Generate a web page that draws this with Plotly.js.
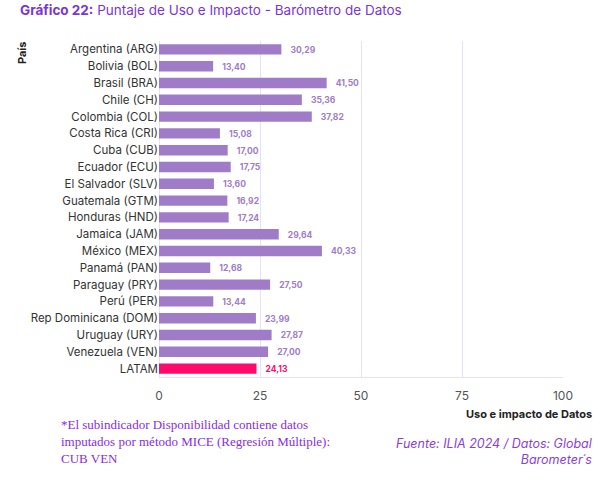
<!DOCTYPE html>
<html>
<head>
<meta charset="utf-8">
<script src="https://cdn.plot.ly/plotly-3.0.1.min.js"></script>
<style>
  body { margin: 0; background: #fff; }
  #chart { width: 600px; height: 479px; }
</style>
</head>
<body>
<div id="chart"></div>
<script>
"use strict";

// countries, top to bottom as in the figure
const countries = [
    "Argentina (ARG)", "Bolivia (BOL)", "Brasil (BRA)", "Chile (CH)", "Colombia (COL)",
    "Costa Rica (CRI)", "Cuba (CUB)", "Ecuador (ECU)", "El Salvador (SLV)", "Guatemala (GTM)",
    "Honduras (HND)", "Jamaica (JAM)", "México (MEX)", "Panamá (PAN)", "Paraguay (PRY)",
    "Perú (PER)", "Rep Dominicana (DOM)", "Uruguay (URY)", "Venezuela (VEN)", "LATAM"
];
const scores = [
    30.29, 13.40, 41.50, 35.36, 37.82,
    15.08, 17.00, 17.75, 13.60, 16.92,
    17.24, 29.64, 40.33, 12.68, 27.50,
    13.44, 23.99, 27.87, 27.00, 24.13
];
const xTicks = [0, 25, 50, 75, 100];

const purple = "#a07cc8";
const pink = "#ff0a6c";

let barColors = countries.map(function (c) { return c === "LATAM" ? pink : purple; });
// pad the value labels a bit away from the bar ends, like the original
let labels = scores.map(function (v) { return "\u00a0\u00a0\u00a0" + v.toFixed(2).replace(".", ","); });

let barTrace = {
    type: "bar",
    orientation: "h",
    y: countries,
    x: scores,
    marker: { color: barColors },
    text: labels,
    textposition: "outside",
    textfont: { family: "Inter, sans-serif", size: 9, color: barColors, weight: 700 },
    cliponaxis: false,
    hoverinfo: "none",
    width: 0.62
};

let layout = {
    width: 600,
    height: 479,
    margin: { l: 159, r: 37, t: 41, b: 102 },
    paper_bgcolor: "#fff",
    plot_bgcolor: "#fff",
    showlegend: false,
    font: { family: "Inter, sans-serif", color: "#333" },
    xaxis: {
        range: [0, 100],
        tickvals: xTicks,
        ticktext: xTicks.map(String),
        tickfont: { size: 12, color: "#555" },
        ticklabelstandoff: 8,
        showgrid: true,
        gridcolor: "#e6e0fa",
        gridwidth: 1,
        zeroline: true,
        zerolinecolor: "#e6e0fa",
        showline: true,
        linecolor: "#e6e0fa",
        ticks: "",
        fixedrange: true
    },
    yaxis: {
        categoryorder: "array",
        categoryarray: countries,
        autorange: "reversed",
        tickfont: { size: 11.5, color: "#333" },
        ticks: "",
        ticklen: 0,
        showgrid: false,
        fixedrange: true
    },
    annotations: [
        {   // title
            xref: "paper", yref: "paper", x: -141 / 404, y: 1 + 31 / 336,
            xanchor: "left", yanchor: "middle", showarrow: false,
            text: "<b>Gráfico 22:</b> Puntaje de Uso e Impacto - Barómetro de Datos",
            font: { size: 13.5, color: "#7a35d6" }
        },
        {   // y axis title
            xref: "paper", yref: "paper", x: -137 / 404, y: 1 - 12 / 336,
            xanchor: "center", yanchor: "middle", showarrow: false,
            textangle: -90,
            text: "<b>País</b>",
            font: { size: 11, color: "#222" }
        },
        {   // x axis title
            xref: "paper", yref: "paper", x: 1 + 31 / 404, y: -37 / 336,
            xanchor: "right", yanchor: "middle", showarrow: false,
            text: "<b>Uso e impacto de Datos</b>",
            font: { size: 11, color: "#222" }
        },
        {   // footnote
            xref: "paper", yref: "paper", x: -100 / 404, y: -38 / 336,
            xanchor: "left", yanchor: "top", align: "left", showarrow: false,
            text: "*El subindicador Disponibilidad contiene datos<br>imputados por método MICE (Regresión Múltiple):<br>CUB VEN",
            font: { family: "Liberation Serif, serif", size: 13, color: "#8a2be2" }
        },
        {   // source
            xref: "paper", yref: "paper", x: 1 + 31 / 404, y: -57 / 336,
            xanchor: "right", yanchor: "top", align: "right", showarrow: false,
            text: "<i>Fuente: ILIA 2024 / Datos: Global<br>Barometer´s</i>",
            font: { size: 12.5, color: "#8a3fd8" }
        }
    ]
};

Plotly.newPlot("chart", [barTrace], layout, { displayModeBar: false, staticPlot: true });
</script>
</body>
</html>
